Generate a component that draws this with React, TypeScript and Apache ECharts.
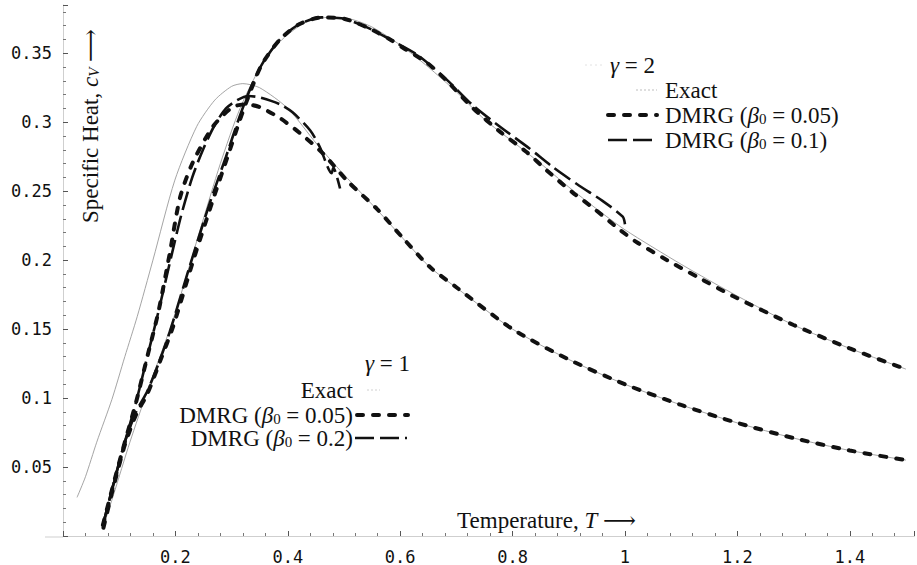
import React, { useEffect, useRef } from "react";
import * as echarts from "echarts";

// Tick labels
const xTickLabels = ["0.2", "0.4", "0.6", "0.8", "1", "1.2", "1.4"];
const yTickLabels = ["0.05", "0.1", "0.15", "0.2", "0.25", "0.3", "0.35"];

// gamma = 1, exact
const g1ExactT = [0.025, 0.04, 0.06, 0.087, 0.11, 0.132, 0.16, 0.199, 0.238, 0.27, 0.3, 0.32, 0.35, 0.4, 0.452, 0.5, 0.56, 0.6, 0.65, 0.7, 0.8, 0.9, 1.0, 1.1, 1.2, 1.3, 1.4, 1.5];
const g1ExactCv = [0.028, 0.043, 0.068, 0.099, 0.13, 0.159, 0.2, 0.258, 0.297, 0.316, 0.326, 0.328, 0.325, 0.31, 0.284, 0.262, 0.236, 0.218, 0.196, 0.18, 0.15, 0.128, 0.11, 0.095, 0.082, 0.071, 0.062, 0.055];

// gamma = 1, DMRG beta0 = 0.05
const g1D005T = [0.071, 0.09, 0.11, 0.13, 0.15, 0.17, 0.19, 0.208, 0.23, 0.267, 0.302, 0.327, 0.35, 0.386, 0.422, 0.461, 0.507, 0.559, 0.605, 0.653, 0.701, 0.8, 0.9, 1.0, 1.1, 1.2, 1.3, 1.4, 1.5];
const g1D005Cv = [0.008, 0.038, 0.068, 0.097, 0.13, 0.163, 0.205, 0.245, 0.27, 0.297, 0.311, 0.313, 0.311, 0.303, 0.292, 0.278, 0.257, 0.237, 0.216, 0.195, 0.18, 0.15, 0.128, 0.11, 0.095, 0.082, 0.071, 0.062, 0.055];

// gamma = 1, DMRG beta0 = 0.2
const g1D02T = [0.071, 0.09, 0.11, 0.13, 0.15, 0.17, 0.19, 0.21, 0.23, 0.25, 0.27, 0.29, 0.31, 0.33, 0.35, 0.386, 0.409, 0.44, 0.457, 0.478, 0.481, 0.493];
const g1D02Cv = [0.008, 0.038, 0.068, 0.097, 0.13, 0.163, 0.198, 0.232, 0.26, 0.281, 0.298, 0.31, 0.316, 0.319, 0.318, 0.313, 0.307, 0.294, 0.282, 0.263, 0.267, 0.252];

// gamma = 2, exact
const g2ExactT = [0.071, 0.09, 0.119, 0.15, 0.196, 0.244, 0.28, 0.315, 0.354, 0.39, 0.43, 0.47, 0.51, 0.55, 0.6, 0.65, 0.7, 0.75, 0.8, 0.85, 0.9, 0.95, 1.0, 1.1, 1.2, 1.3, 1.4, 1.5];
const g2ExactCv = [0.006, 0.03, 0.068, 0.105, 0.157, 0.222, 0.27, 0.31, 0.342, 0.36, 0.372, 0.376, 0.375, 0.369, 0.356, 0.34, 0.322, 0.302, 0.286, 0.27, 0.253, 0.237, 0.222, 0.197, 0.174, 0.153, 0.136, 0.121];

// gamma = 2, DMRG beta0 = 0.05
const g2D005T = [0.072, 0.09, 0.11, 0.13, 0.15, 0.173, 0.196, 0.232, 0.267, 0.297, 0.315, 0.335, 0.354, 0.386, 0.42, 0.46, 0.5, 0.54, 0.582, 0.605, 0.648, 0.683, 0.73, 0.778, 0.826, 0.861, 0.907, 0.943, 0.991, 1.021, 1.075, 1.128, 1.192, 1.3, 1.4, 1.5];
const g2D005Cv = [0.006, 0.036, 0.066, 0.088, 0.103, 0.127, 0.152, 0.2, 0.244, 0.28, 0.302, 0.324, 0.342, 0.36, 0.371, 0.376, 0.375, 0.369, 0.36, 0.354, 0.343, 0.33, 0.31, 0.293, 0.278, 0.265, 0.249, 0.238, 0.222, 0.213, 0.2, 0.188, 0.174, 0.153, 0.136, 0.121];

// gamma = 2, DMRG beta0 = 0.1
const g2D01T = [0.071, 0.09, 0.11, 0.13, 0.15, 0.17, 0.19, 0.225, 0.26, 0.29, 0.315, 0.335, 0.354, 0.386, 0.42, 0.46, 0.5, 0.54, 0.582, 0.63, 0.68, 0.73, 0.78, 0.83, 0.87, 0.915, 0.96, 0.996, 1.0];
const g2D01Cv = [0.008, 0.038, 0.068, 0.09, 0.105, 0.125, 0.148, 0.195, 0.24, 0.275, 0.305, 0.326, 0.342, 0.36, 0.371, 0.376, 0.375, 0.369, 0.36, 0.349, 0.332, 0.312, 0.296, 0.281, 0.268, 0.255, 0.243, 0.2315, 0.226];

const zip = (t: number[], c: number[]) => t.map((v, i) => [v, c[i]]);

export default function App() {
  const ref = useRef<HTMLDivElement>(null);
  useEffect(() => {
    const chart = echarts.init(ref.current!, undefined, { renderer: "svg" });
    const serif = "'Liberation Serif', 'DejaVu Serif', serif";
    const mono = "'DejaVu Sans Mono', 'Liberation Mono', monospace";
    const black = "#111";
    const exactStyle = { color: "#9a9a9a", width: 0.9, type: "solid" as const };
    const shortDash = { color: black, width: 4, type: [6, 10], cap: "round" as const };
    const longDash = { color: black, width: 2.6, type: [19, 6], cap: "butt" as const };

    const fmt = (labels: string[], step: number) => (v: number) => {
      const k = Math.round(v / step);
      if (Math.abs(v - k * step) > 1e-6) return "";
      const i = k - 1;
      return i >= 0 && i < labels.length ? labels[i] : "";
    };

    const FS = 23;
    const LH = 19;
    const rich = {
      r: { fontFamily: serif, fontSize: FS, lineHeight: LH, fill: black, color: black },
      i: { fontFamily: serif, fontSize: FS, lineHeight: LH, fontStyle: "italic", fill: black, color: black },
      s: { fontFamily: serif, fontSize: 15, lineHeight: 11, fontStyle: "italic", fill: black, color: black, padding: [8, 0, 0, 0] },
      z: { fontFamily: serif, fontSize: 15, lineHeight: 11, fill: black, color: black, padding: [8, 0, 0, 0] },
    };

    const txt = (x: number, y: number, text: string, align: string, extra: any = {}) => ({
      type: "text",
      x,
      y,
      ...extra,
      style: { text, rich, align, verticalAlign: "middle", fill: black, font: `${FS}px ${serif}`, lineHeight: LH },
    });
    const seg = (x1: number, x2: number, y: number, st: any) => ({
      type: "line",
      shape: { x1, y1: y, x2, y2: y },
      style: { stroke: st.color, lineWidth: st.width, lineDash: Array.isArray(st.type) ? st.type : null, lineCap: st.cap || "butt" },
    });

    const line = (name: string, data: number[][], st: any, z: number) => ({
      name,
      type: "line",
      data,
      showSymbol: false,
      symbol: "none",
      smooth: 0.25,
      silent: true,
      z,
      lineStyle: st,
    });

    const axisCommon = {
      type: "value" as const,
      min: 0,
      axisLine: { show: true, onZero: true, lineStyle: { color: "#cfcfcf", width: 1 } },
      axisTick: { show: true, inside: true, length: 5, lineStyle: { color: "#555", width: 1 } },
      minorTick: { show: true, splitNumber: 5, length: 3, lineStyle: { color: "#777", width: 1 } },
      splitLine: { show: false },
      minorSplitLine: { show: false },
    };

    chart.setOption({
      animation: false,
      backgroundColor: "#fff",
      grid: { left: 63, right: 2.6, top: 5, bottom: 28, containLabel: false },
      xAxis: {
        ...axisCommon,
        max: 1.515,
        interval: 0.2,
        axisLabel: { margin: 12, fontFamily: mono, fontSize: 17, color: black, showMinLabel: false, showMaxLabel: false, formatter: fmt(xTickLabels, 0.2) },
      },
      yAxis: {
        ...axisCommon,
        max: 0.385,
        interval: 0.05,
        axisLabel: { margin: 11, fontFamily: mono, fontSize: 17, color: black, showMinLabel: false, showMaxLabel: false, formatter: fmt(yTickLabels, 0.05) },
      },
      series: [
        line("γ=1 Exact", zip(g1ExactT, g1ExactCv), exactStyle, 2),
        line("γ=2 Exact", zip(g2ExactT, g2ExactCv), exactStyle, 2),
        line("γ=1 DMRG (β0 = 0.05)", zip(g1D005T, g1D005Cv), shortDash, 3),
        line("γ=1 DMRG (β0 = 0.2)", zip(g1D02T, g1D02Cv), longDash, 4),
        line("γ=2 DMRG (β0 = 0.05)", zip(g2D005T, g2D005Cv), shortDash, 3),
        line("γ=2 DMRG (β0 = 0.1)", zip(g2D01T, g2D01Cv), longDash, 4),
      ],
      graphic: [
        seg(45, 63, 537, { color: "#cfcfcf", width: 1 }),
        txt(636, 520, "{r|Temperature, }{i|T}{r| ⟶}", "right"),
        txt(90, 126, "{r|Specific Heat, }{i|c}{s|V}{r| ⟶}", "center", { rotation: Math.PI / 2 }),
        // gamma = 2 legend
        seg(585, 603, 65, { color: "#e2e2e2", width: 1, type: [2, 3] }),
        txt(610, 65, "{i|γ}{r| = 2}", "left"),
        seg(636, 657, 90, { color: "#bdbdbd", width: 1, type: [2, 2] }),
        txt(665, 90, "{r|Exact}", "left"),
        seg(608, 657, 115, shortDash),
        txt(665, 115, "{r|DMRG (}{i|β}{z|0}{r| = 0.05)}", "left"),
        seg(608, 657, 140, longDash),
        txt(665, 140, "{r|DMRG (}{i|β}{z|0}{r| = 0.1)}", "left"),
        // gamma = 1 legend
        txt(410, 363, "{i|γ}{r| = 1}", "right"),
        seg(367, 380, 390, { color: "#d0d0d0", width: 1, type: [2, 2] }),
        txt(353, 390, "{r|Exact}", "right"),
        seg(357, 408, 415, shortDash),
        txt(353, 415, "{r|DMRG (}{i|β}{z|0}{r| = 0.05)}", "right"),
        seg(355, 407, 438, longDash),
        txt(353, 438, "{r|DMRG (}{i|β}{z|0}{r| = 0.2)}", "right"),
      ],
    });
    return () => chart.dispose();
  }, []);
  return <div ref={ref} style={{ position: "absolute", left: 0, top: 0, width: 917, height: 565 }} />;
}
